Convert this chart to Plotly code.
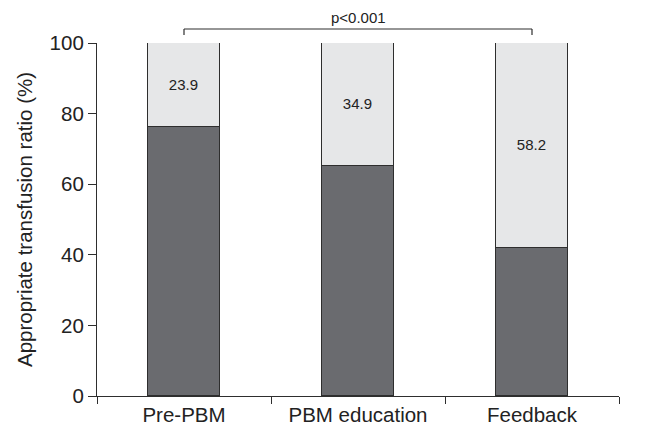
import plotly.graph_objects as go

categories = ["Pre-PBM", "PBM education", "Feedback"]
appropriate = [76.1, 65.1, 41.8]
inappropriate = [23.9, 34.9, 58.2]
inappropriate_labels = ["23.9", "34.9", "58.2"]
y_ticks = [0, 20, 40, 60, 80, 100]
p_text = "p<0.001"

font_family = "Liberation Sans, Arial, sans-serif"
dark = "#6a6b6f"
light = "#e6e7e8"
edge = "#2e2e2e"

fig = go.Figure()
fig.add_trace(go.Bar(
    x=categories, y=appropriate, marker=dict(color=dark, line=dict(color=edge, width=1.2)),
    width=0.414, showlegend=False, hoverinfo="skip"))
fig.add_trace(go.Bar(
    x=categories, y=inappropriate, marker=dict(color=light, line=dict(color=edge, width=1.2)),
    width=0.414, text=inappropriate_labels, textposition="inside", insidetextanchor="middle",
    textfont=dict(size=15, color="#222222", family=font_family), textangle=0,
    showlegend=False, hoverinfo="skip"))

# significance bracket between first and last group
y0, y1 = 1.0227, 1.0397
fig.add_shape(type="line", xref="x", yref="paper", x0=categories[0], x1=categories[0], y0=y0, y1=y1,
              line=dict(color=edge, width=1.2))
fig.add_shape(type="line", xref="x", yref="paper", x0=categories[0], x1=categories[-1], y0=y1, y1=y1,
              line=dict(color=edge, width=1.2))
fig.add_shape(type="line", xref="x", yref="paper", x0=categories[-1], x1=categories[-1], y0=y0, y1=y1,
              line=dict(color=edge, width=1.2))
fig.add_annotation(x=categories[1], xref="x", y=y1, yref="paper", text=p_text, showarrow=False,
                   yanchor="bottom", yshift=1, font=dict(size=15, color="#222222", family=font_family))

# page body has an 8px margin, so the figure is 8px smaller than the window
fig.update_layout(
    width=640, height=423, barmode="stack", bargap=0,
    margin=dict(l=89, r=29, t=35, b=35, autoexpand=False),
    plot_bgcolor="white", paper_bgcolor="white",
    font=dict(family=font_family, color="#222222", size=20),
    xaxis=dict(type="category", range=[-0.5, 2.5], showline=True, linecolor=edge, linewidth=1.2,
               ticks="outside", tickson="boundaries", ticklen=7, tickcolor=edge, tickwidth=1.2,
               showgrid=False, tickfont=dict(size=20.5), fixedrange=True, automargin=False),
    yaxis=dict(range=[0, 100], tickvals=y_ticks, showline=True, linecolor=edge, linewidth=1.2,
               ticks="outside", ticklen=8, tickcolor=edge, tickwidth=1.2, showgrid=False, zeroline=False,
               tickfont=dict(size=20.5), automargin=False,
               title=dict(text="Appropriate transfusion ratio (%)", font=dict(size=20.5), standoff=11)),
)

fig.write_html("out.html")
